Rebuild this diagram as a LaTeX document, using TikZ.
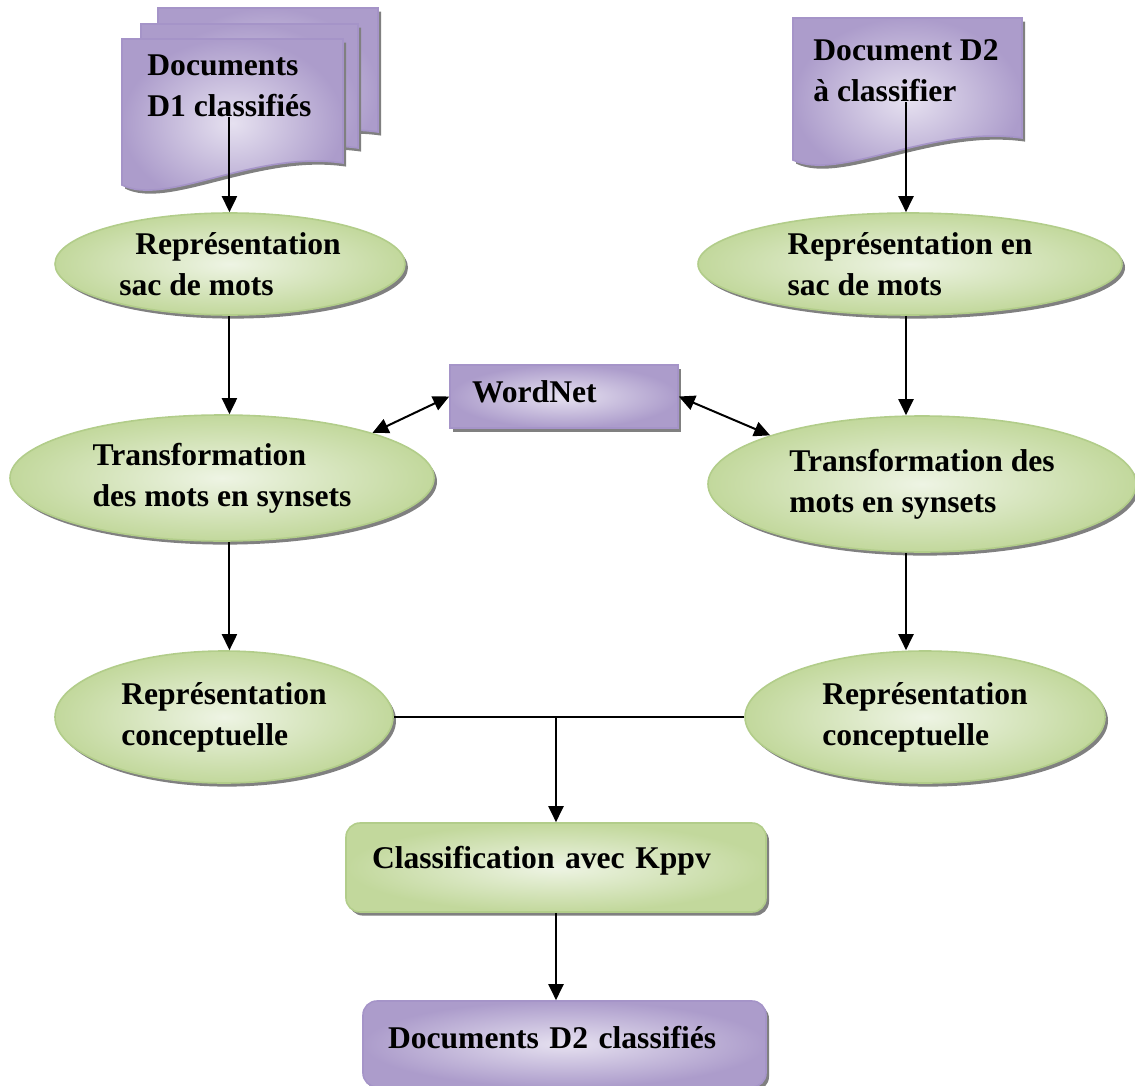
\documentclass[tikz,border=0pt]{standalone}
\usepackage{fontspec}
\setmainfont{Liberation Serif}
\usetikzlibrary{
    arrows.meta,
    shadows,
    shapes.geometric,
    positioning,
}
\definecolor{LeafEdge}{RGB}{178,205,138}
\definecolor{LeafDark}{RGB}{194,216,156}
\definecolor{LeafLight}{RGB}{238,244,228}
\definecolor{LilacEdge}{RGB}{165,148,200}
\definecolor{LilacDark}{RGB}{172,156,203}
\definecolor{LilacLight}{RGB}{230,225,240}
\colorlet{ShadowGray}{black!50}
\tikzset{
    >={Triangle[length=8pt,width=7.5pt]},
    pics/docsheet/.style args={#1/#2}{code={
        \path[sheet] (0,0) -- (#1,0) -- (#1,#2-22) .. controls (0.6*#1,#2-35) and (0.2*#1,#2+22) .. (0,#2) -- cycle;
    }}
}

\begin{document}
\begin{tikzpicture}[
    x=0.5pt,y=-0.5pt,
    every node/.style={font=\bfseries\fontsize{15.8}{20.5}\selectfont},
    dropshade/.style={drop shadow={shadow xshift=1.5pt,shadow yshift=-1.8pt,fill=ShadowGray,opacity=1}},
    sheet/.style={draw=LilacEdge,line width=0.8pt,inner color=LilacLight,outer color=LilacDark,dropshade},
    leaf/.style={ellipse,draw=LeafEdge,line width=0.8pt,inner color=LeafLight,outer color=LeafDark,inner sep=0pt,align=left,dropshade},
    leafbox/.style={rectangle,rounded corners=7pt,draw=LeafEdge,line width=0.8pt,inner color=LeafLight,outer color=LeafDark,align=left,inner ysep=0pt,text height=11pt,dropshade},
    lilacbox/.style={rectangle,draw=LilacEdge,line width=0.8pt,inner color=LilacLight,outer color=LilacDark,align=left,inner ysep=0pt,text height=11pt,dropshade},
    arr/.style={->,line width=1pt},
    biarr/.style={<->,line width=1pt}
    ]
    \useasboundingbox (0,0) rectangle (1135,1086);

    % document sheets
    \foreach \sx/\sy/\sw in {158/8/220,141/24/217,122/39/221}
        \pic at (\sx,\sy) {docsheet=\sw/146};
    \pic at (793,18) {docsheet=229/142};

    \node[anchor=north west,inner sep=0pt,align=left] (docA) at (147,54) {Documents\\D1 classifiés};
    \node[anchor=north west,inner sep=0pt,align=left] (docB) at (813,39) {Document D2\\à classifier};

    \node[leaf,minimum width=175pt,minimum height=51pt] (repA) at (230,264) {\hspace*{8pt}Représentation\\sac de mots};
    \node[leaf,minimum width=212pt,minimum height=51pt] (repB) at (910,264) {Représentation en\\sac de mots};

    \node[lilacbox,inner xsep=11pt,text width=92pt,minimum height=31.5pt,text depth=5pt] (wordnet) at (564,396.5) {WordNet};

    \node[leaf,minimum width=212pt,minimum height=63pt] (transA) at (222,478) {Transformation\\des mots en synsets};
    \node[leaf,minimum width=214pt,minimum height=68pt] (transB) at (922,484) {Transformation des\\mots en synsets};

    \node[leaf,minimum width=169pt,minimum height=66pt] (conA) at (224,717) {Représentation\\conceptuelle};
    \node[leaf,minimum width=180pt,minimum height=66pt] (conB) at (925,717) {Représentation\\conceptuelle};

    \node[leafbox,inner xsep=13pt,text width=184pt,minimum height=44.5pt,text depth=10pt] (clsf) at (556,867.5) {Classification avec Kppv};
    \node[lilacbox,rounded corners=7pt,inner xsep=12.5pt,text width=176.5pt,minimum height=43pt,text depth=6.3pt] (result) at (564.5,1044) {Documents D2 classifiés};

    % left column
    \draw[arr] (docA.south) -- (docA.south |- repA.north);
    \draw[arr] (repA.south -| docA.south) -- (docA.south |- transA.north);
    \draw[arr] (transA.south -| docA.south) -- (docA.south |- conA.north);

    % right column
    \draw[arr] (docB.south) -- (docB.south |- repB.north);
    \draw[arr] (repB.south -| docB.south) -- (docB.south |- transB.north);
    \draw[arr] (transB.south -| docB.south) -- (docB.south |- conB.north);

    \draw[biarr] (wordnet.west) -- (transA.north east);
    \draw[biarr] (wordnet.east) -- (transB.north west);

    \draw[line width=1pt] (conA.east) -- (conB.west);
    \draw[arr] (conA.east -| clsf.north) -- (clsf.north);
    \draw[arr] (clsf.south) -- (clsf.south |- result.north);
\end{tikzpicture}
\end{document}
